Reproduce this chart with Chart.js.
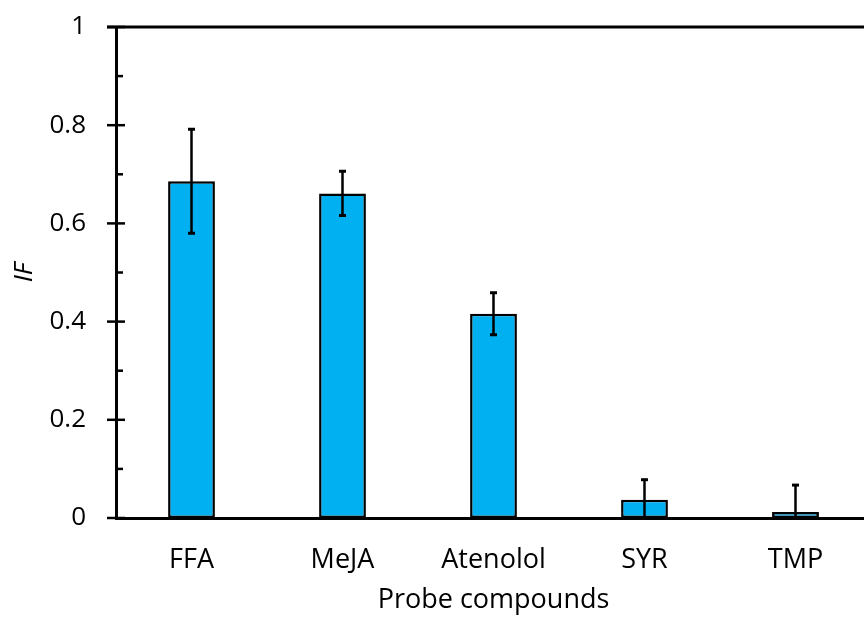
<!DOCTYPE html>
<html>
<head>
<meta charset="utf-8">
<script src="https://cdn.jsdelivr.net/npm/chart.js@4/dist/chart.umd.min.js"></script>
<style>
  html, body { margin: 0; padding: 0; background: #fff; overflow: hidden; }
  #wrap { width: 872px; height: 617px; }
</style>
</head>
<body>
<div id="wrap"><canvas id="c" width="872" height="617"></canvas></div>
<script>
// Probe compounds and their IF values with standard deviations
const categories = ['FFA', 'MeJA', 'Atenolol', 'SYR', 'TMP'];
const ifValues = [0.686, 0.661, 0.416, 0.037, 0.012];
const ifErrors = [0.106, 0.045, 0.043, 0.041, 0.055];
const yTicks = [0, 0.2, 0.4, 0.6, 0.8, 1];

const FONT = "'Open Sans', sans-serif";

// Draws error bars, the frame top line and inward/outward axis ticks
const decorations = {
  id: 'decorations',
  afterDatasetsDraw(chart) {
    const { ctx, chartArea, scales } = chart;
    const x = scales.x, y = scales.y;
    ctx.save();
    ctx.strokeStyle = '#000';
    ctx.lineCap = 'butt';

    // error bars
    ifValues.forEach((v, i) => {
      const px = x.getPixelForValue(i);
      const hi = y.getPixelForValue(v + ifErrors[i]);
      const lo = y.getPixelForValue(Math.max(0, v - ifErrors[i]));
      ctx.lineWidth = 2.5;
      ctx.beginPath();
      ctx.moveTo(px, lo);
      ctx.lineTo(px, hi);
      ctx.stroke();
      ctx.lineWidth = 3;
      ctx.beginPath();
      ctx.moveTo(px - 3.5, hi);
      ctx.lineTo(px + 3.5, hi);
      if (v - ifErrors[i] > 0) {
        ctx.moveTo(px - 3.5, lo);
        ctx.lineTo(px + 3.5, lo);
      }
      ctx.stroke();
    });

    // top frame line
    ctx.lineWidth = 3;
    ctx.beginPath();
    ctx.moveTo(chartArea.left - 9, chartArea.top);
    ctx.lineTo(chartArea.right + 2, chartArea.top);
    ctx.stroke();

    // major ticks cross the axis, minor ticks point inward
    ctx.lineWidth = 2.5;
    const ax = chartArea.left;
    yTicks.forEach(t => {
      const py = y.getPixelForValue(t);
      ctx.beginPath();
      ctx.moveTo(ax - 9, py);
      ctx.lineTo(ax + 9, py);
      ctx.stroke();
    });
    for (let k = 0; k < yTicks.length - 1; k++) {
      const py = y.getPixelForValue((yTicks[k] + yTicks[k + 1]) / 2);
      ctx.beginPath();
      ctx.moveTo(ax, py);
      ctx.lineTo(ax + 7, py);
      ctx.stroke();
    }
    ctx.restore();
  }
};

new Chart(document.getElementById('c'), {
  type: 'bar',
  data: {
    labels: categories,
    datasets: [{
      data: ifValues,
      backgroundColor: '#00B0F0',
      borderColor: '#000',
      borderWidth: 2.5,
      borderSkipped: false,
      barPercentage: 0.31,
      categoryPercentage: 1
    }]
  },
  options: {
    responsive: false,
    animation: false,
    events: [],
    layout: { padding: { top: 27, right: 1, bottom: 0, left: 0 } },
    plugins: { legend: { display: false }, tooltip: { enabled: false } },
    scales: {
      x: {
        grid: { display: false, drawTicks: false },
        border: { display: true, color: '#000', width: 3 },
        ticks: { color: '#000', font: { family: FONT, size: 27 }, padding: 26, maxRotation: 0 },
        title: { display: true, text: 'Probe compounds', color: '#000',
                 font: { family: FONT, size: 27 }, padding: { top: 0, bottom: 0 } },
        afterFit(s) { s.height = 99; s.paddingLeft = 0; s.paddingRight = 0; }
      },
      y: {
        min: 0, max: 1,
        afterBuildTicks(s) { s.ticks = yTicks.map(v => ({ value: v })); },
        grid: { display: false, drawTicks: false },
        border: { display: true, color: '#000', width: 3 },
        ticks: {
          color: '#000', font: { family: FONT, size: 26 }, padding: 30,
          callback: v => String(Number(v.toFixed(1)))
        },
        title: { display: true, text: 'IF', color: '#000',
                 font: { family: FONT, size: 26, style: 'italic' }, padding: { top: 9, bottom: 0 } },
        afterFit(s) { s.width = 116; s.paddingTop = 0; s.paddingBottom = 0; }
      }
    }
  },
  plugins: [decorations]
});
</script>
</body>
</html>
